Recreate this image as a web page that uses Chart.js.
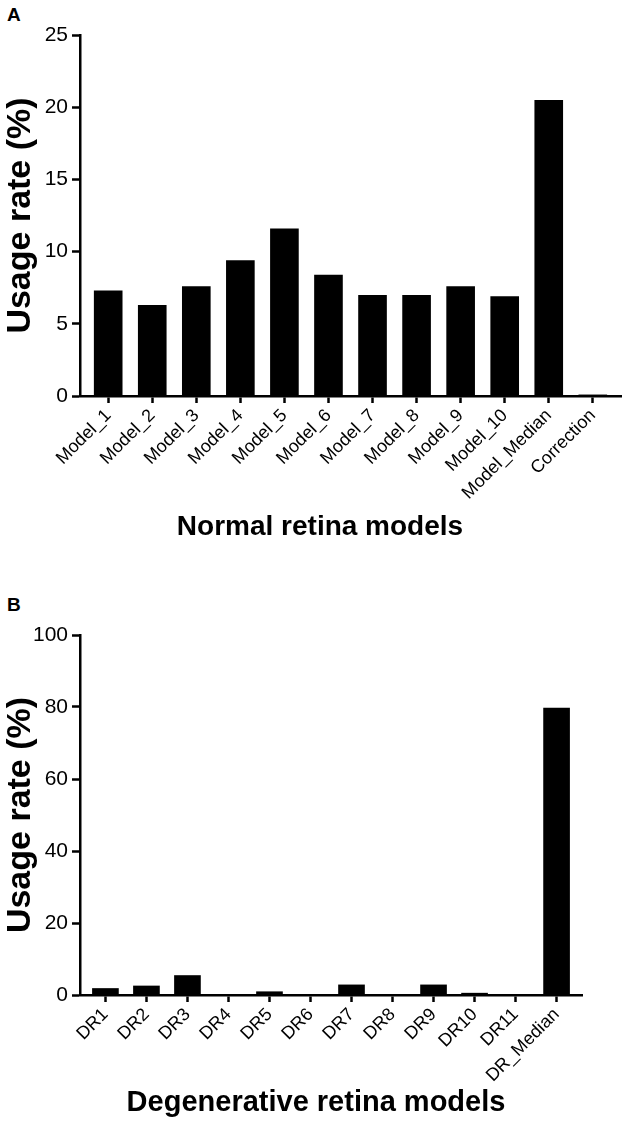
<!DOCTYPE html>
<html>
<head>
<meta charset="utf-8">
<script src="https://cdn.jsdelivr.net/npm/chart.js@4"></script>
<style>
  html, body { margin: 0; padding: 0; background: #fff; }
  body { width: 624px; height: 1128px; position: relative; overflow: hidden; font-family: "Liberation Sans", Arial, sans-serif; }
  .panel { position: absolute; left: 0; width: 624px; }
  .tag { position: absolute; left: 7px; font-weight: bold; font-size: 19px; line-height: 1; }
</style>
</head>
<body>
<div class="tag" style="top:5px">A</div>
<div class="panel" style="top:0;height:570px"><canvas id="chartA"></canvas></div>
<div class="tag" style="top:595px">B</div>
<div class="panel" style="top:580px;height:548px"><canvas id="chartB"></canvas></div>
<script>
const normalModels = ['Model_1', 'Model_2', 'Model_3', 'Model_4', 'Model_5', 'Model_6', 'Model_7', 'Model_8', 'Model_9', 'Model_10', 'Model_Median', 'Correction']
const normalUsage = [7.3, 6.3, 7.6, 9.4, 11.6, 8.4, 7.0, 7.0, 7.6, 6.9, 20.5, 0.1]
const normalTicks = [0, 5, 10, 15, 20, 25]

const drModels = ['DR1', 'DR2', 'DR3', 'DR4', 'DR5', 'DR6', 'DR7', 'DR8', 'DR9', 'DR10', 'DR11', 'DR_Median']
const drUsage = [1.9, 2.6, 5.5, 0, 1.0, 0, 2.9, 0, 2.9, 0.6, 0, 79.8]
const drTicks = [0, 20, 40, 60, 80, 100]

const FONT = '"Liberation Sans", Arial, Helvetica, sans-serif'
Chart.defaults.font.family = FONT
Chart.defaults.color = '#000'

// x title drawn by hand: in the figure it is centred on the page, not on the axis
const xTitlePlugin = {
  id: 'xTitle',
  afterDraw(chart, args, opts) {
    const ctx = chart.ctx
    ctx.save()
    ctx.font = `bold ${opts.size}px ${FONT}`
    ctx.fillStyle = '#000'
    ctx.textAlign = 'center'
    ctx.textBaseline = 'middle'
    ctx.fillText(opts.text, opts.x, opts.y)
    ctx.restore()
  }
}

function makeChart(id, labels, values, ticks, xTitle, box) {
  const ctx = document.getElementById(id).getContext('2d')
  return new Chart(ctx, {
    type: 'bar',
    data: {
      labels,
      datasets: [{ data: values, backgroundColor: '#000', borderWidth: 0, barPercentage: 0.65, categoryPercentage: 1 }]
    },
    plugins: [xTitlePlugin],
    options: {
      responsive: true,
      maintainAspectRatio: false,
      animation: false,
      layout: { padding: { top: box.top, right: box.right, bottom: box.bottom, left: 0 } },
      plugins: {
        legend: { display: false },
        tooltip: { enabled: false },
        xTitle: { text: xTitle, size: box.titleSize, x: box.titleX, y: box.titleY }
      },
      scales: {
        x: {
          offset: true,
          // wider gap before the first and after the last category than Chart.js gives
          afterBuildTicks: s => {
            s._startValue = -box.edge
            s._valueRange = labels.length - 1 + 2 * box.edge
          },
          grid: { display: true, drawOnChartArea: false, drawTicks: true, tickLength: 7, tickWidth: 2.5, tickColor: '#000', offset: false },
          border: { display: true, color: '#000', width: 2.5 },
          ticks: { font: { size: 18 }, color: '#000', maxRotation: 45, minRotation: 45, autoSkip: false, padding: 2 },
          afterFit: s => { s.height = box.xh }
        },
        y: {
          min: 0,
          max: ticks[ticks.length - 1],
          afterBuildTicks: s => { s.ticks = ticks.map(v => ({ value: v })) },
          grid: { display: true, drawOnChartArea: false, drawTicks: true, tickLength: 8, tickWidth: 2.5, tickColor: '#000' },
          border: { display: true, color: '#000', width: 2.5 },
          ticks: { font: { size: 21 }, color: '#000', padding: 4 },
          title: { display: true, text: 'Usage rate (%)', font: { size: 34, weight: 'bold' }, color: '#000', padding: 0 },
          afterFit: s => { s.width = 80 }
        }
      }
    }
  })
}

makeChart('chartA', normalModels, normalUsage, normalTicks, 'Normal retina models',
  { top: 35, right: 3, bottom: 26, xh: 148, edge: 0.64, titleSize: 28, titleX: 320, titleY: 527 })
makeChart('chartB', drModels, drUsage, drTicks, 'Degenerative retina models',
  { top: 55, right: 42, bottom: 8, xh: 125, edge: 0.62, titleSize: 29, titleX: 316, titleY: 523 })
</script>
</body>
</html>
